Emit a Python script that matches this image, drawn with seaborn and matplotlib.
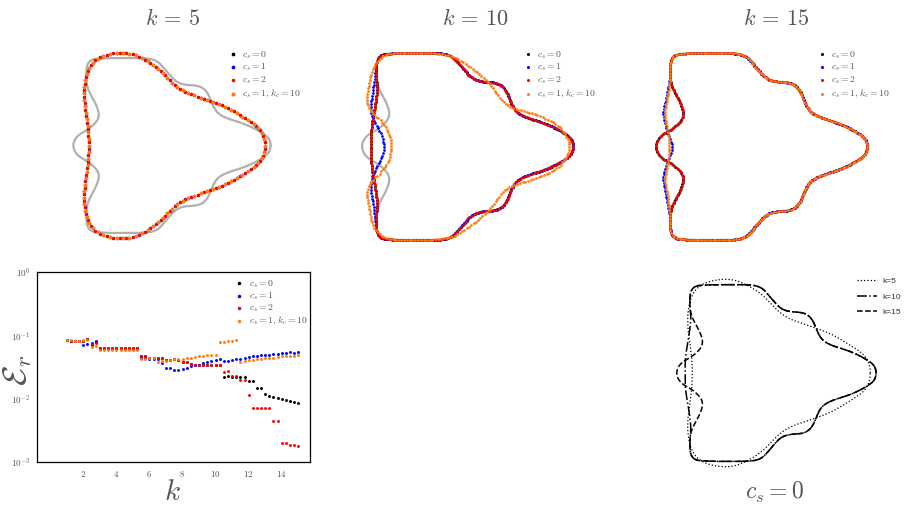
import numpy as np
import matplotlib
matplotlib.use("Agg")
import matplotlib.pyplot as plt
import seaborn as sns
from matplotlib.ticker import FuncFormatter, LogLocator, NullFormatter

# 輪郭の上半分（先端 -> 左のこぶ）、ピクセル単位で読み取り
shape_x = [867, 866, 861, 853, 845, 835, 825, 815, 809, 805, 802, 798, 791, 782, 773, 766, 760, 754, 748, 740,
           728, 712, 696, 684, 676, 672, 670, 670, 671, 675, 680, 683, 683, 675, 662, 657, 656]
shape_y = [146.5, 140, 135, 130, 126, 122, 119, 115, 110, 103, 95, 88, 83, 82, 81, 78, 72, 65, 58, 54,
           53, 53, 53, 53.5, 54.5, 58, 65, 76, 84, 93, 102, 110, 118, 127, 135, 141, 146.5]
n_right = 27  # 右側（共通部分）の点数

# k=5 の再構成
k5_x = [861, 859, 856, 845, 827, 808, 791, 778, 767, 757, 749, 738, 731, 720, 709, 697, 687, 678, 672, 669,
        667, 669, 671, 672, 673]
k5_y = [146.5, 136, 128, 121, 109, 100.5, 95, 90, 84.5, 74, 66, 58, 53.5, 49, 47, 48, 51.5, 55.5, 64, 77,
        91, 107, 123, 136, 146.5]

# k=10 左側の形
k10_flat_x = [670, 671, 670, 668, 666, 665, 665]
k10_flat_y = [76, 88, 100, 112, 124, 135, 146.5]
k10_cs1_x = [669, 667, 665, 665, 668, 673, 677, 678]
k10_cs1_y = [76, 90, 103, 112, 121, 130, 139, 146.5]
k10_kc_x = [864, 862, 855, 845, 831, 818, 807, 797, 787, 777, 764, 754, 745, 735, 720, 700, 686, 677, 671, 666,
            663, 661, 662, 667, 675, 682, 686]
k10_kc_y = [146.5, 140, 128, 121, 115, 111, 108, 102, 88, 77, 67, 60, 56, 54, 53, 53, 53.5, 56, 61, 70,
            84, 97, 107, 113, 121, 130, 146.5]

# k=15 左側の形
k15_cs1_x = [670, 668, 666, 664, 663, 665, 668, 671, 672]
k15_cs1_y = [76, 88, 98, 108, 114, 124, 133, 140, 146.5]
k15_kc_x = [670, 669, 667, 665, 666, 668, 669, 669]
k15_kc_y = [76, 88, 100, 112, 122, 132, 140, 146.5]

# 誤差データ
k_vals = [1.0, 1.25, 1.5, 1.75, 2.0, 2.25, 2.5, 2.75, 3.0, 3.25, 3.5, 3.75, 4.0, 4.25, 4.5, 4.75, 5.0, 5.25,
          5.5, 5.75, 6.0, 6.25, 6.5, 6.75, 7.0, 7.25, 7.5, 7.75, 8.0, 8.25, 8.5, 8.75, 9.0, 9.25, 9.5, 9.75,
          10.0, 10.25, 10.5, 10.75, 11.0, 11.25, 11.5, 11.75, 12.0, 12.25, 12.5, 12.75, 13.0, 13.25, 13.5,
          13.75, 14.0, 14.25, 14.5, 14.75, 15.0]
err_cs0 = [0.084, 0.083, 0.082, 0.082, 0.082, 0.088, 0.072, 0.078,
           0.063, 0.063, 0.063, 0.063, 0.063, 0.063, 0.063, 0.063, 0.063, 0.063,
           0.047, 0.047, 0.044, 0.044, 0.044, 0.045,
           0.041, 0.041, 0.042, 0.041, 0.039, 0.039, 0.036, 0.035, 0.035, 0.035, 0.035, 0.035, 0.035, 0.035,
           0.0225, 0.023, 0.0225, 0.022, 0.022, 0.022, 0.0192, 0.019, 0.015, 0.015, 0.0118, 0.0113, 0.0107,
           0.0104, 0.0100, 0.0097, 0.0093, 0.0091, 0.0086]
err_cs1 = [0.084, 0.083, 0.082, 0.082, 0.070, 0.074, 0.077, 0.083,
           0.062, 0.062, 0.062, 0.062, 0.062, 0.062, 0.062, 0.062, 0.062, 0.062,
           0.045, 0.044, 0.043, 0.043, 0.043, 0.037,
           0.031, 0.031, 0.0285, 0.029, 0.030, 0.031, 0.033, 0.034, 0.035, 0.037, 0.039, 0.040, 0.041, 0.042,
           0.040, 0.040, 0.041, 0.042, 0.043, 0.044, 0.046, 0.047, 0.048, 0.049, 0.050, 0.050, 0.051,
           0.052, 0.053, 0.054, 0.055, 0.054, 0.055]
err_cs2 = [0.084, 0.083, 0.082, 0.082, 0.082, 0.090, 0.074, 0.076,
           0.063, 0.063, 0.063, 0.063, 0.063, 0.063, 0.063, 0.063, 0.063, 0.063,
           0.047, 0.047, 0.044, 0.044, 0.044, 0.045,
           0.041, 0.041, 0.042, 0.041, 0.039, 0.039, 0.036, 0.035, 0.035, 0.035, 0.035, 0.035, 0.035, 0.035,
           0.027, 0.028, 0.023, 0.023, 0.020, 0.020, 0.0115, 0.0072, 0.0072, 0.0072, 0.0072, 0.0072, 0.0045,
           0.0045, 0.0020, 0.0020, 0.0019, 0.0019, 0.0018]
err_kc = [0.085, 0.085, 0.083, 0.083, 0.084, 0.086, 0.067, 0.069,
          0.060, 0.060, 0.060, 0.060, 0.060, 0.060, 0.060, 0.060, 0.060, 0.060,
          0.043, 0.043, 0.044, 0.044, 0.039, 0.040,
          0.040, 0.041, 0.042, 0.042, 0.043, 0.044, 0.045, 0.046, 0.047, 0.048, 0.049, 0.050, 0.049, 0.080,
          0.079, 0.081, 0.082, 0.085, 0.039, 0.040, 0.041, 0.041, 0.042, 0.043, 0.044, 0.045, 0.045,
          0.046, 0.047, 0.047, 0.048, 0.048, 0.049]

labels = ["$c_s = 0$", "$c_s = 1$", "$c_s = 2$", "$c_s = 1, k_c = 10$"]
colors = ["#000000", "#0000ff", "#ff0000", "#ff7f0e"]
TEXT = "#555555"
GRAY = "#b0b0b0"
W, H = 913, 509
MID = 146.5

sns.set_style("white")
plt.rcParams["mathtext.fontset"] = "cm"


def contour(xu, yu):
    xu = np.asarray(xu, float)
    yu = np.asarray(yu, float)
    x = np.concatenate([xu, xu[-2:0:-1]])
    y = np.concatenate([yu, 2 * MID - yu[-2:0:-1]])
    return x, -y


def smooth(xu, yu, n_pts=400, phase=0.0, n_harm=40):
    x, y = contour(xu, yu)
    z = np.append(x + 1j * y, x[0] + 1j * y[0])
    s = np.concatenate([[0], np.cumsum(np.abs(np.diff(z)))])
    m = 512
    u = np.arange(m) / m * s[-1]
    zr = np.interp(u, s, z.real) + 1j * np.interp(u, s, z.imag)
    c = np.fft.fft(zr) / m
    f = np.fft.fftfreq(m, 1 / m)
    keep = np.abs(f) <= n_harm
    t = (np.arange(n_pts) + phase) / n_pts
    zz = (c[keep][None, :] * np.exp(2j * np.pi * f[keep][None, :] * t[:, None])).sum(axis=1)
    return zz.real, zz.imag


def with_left(lx, ly):
    return shape_x[:n_right] + lx, shape_y[:n_right] + ly


def place(ax, left_px, top_px, scale, top_y, bottom_y):
    xlim = (min(shape_x), max(shape_x))
    w = (xlim[1] - xlim[0]) * scale
    h = (bottom_y - top_y) * scale
    ax.set_position([left_px / W, 1 - (top_px + h) / H, w / W, h / H])
    ax.set_xlim(xlim)
    ax.set_ylim(-bottom_y, -top_y)
    ax.axis("off")


def shape_panel(ax, curves, n_dots, sizes, phases):
    gx, gy = smooth(shape_x, shape_y)
    ax.plot(np.append(gx, gx[0]), np.append(gy, gy[0]), color=GRAY, lw=1.6, zorder=1, clip_on=False)
    for i, ((cx, cy, nh), lab, col) in enumerate(zip(curves, labels, colors)):
        px, py = smooth(cx, cy, n_dots, phase=phases[i], n_harm=nh)
        sns.scatterplot(x=px, y=py, color=col, s=sizes[i], linewidth=0, ax=ax, label=lab,
                        zorder=2 + i, clip_on=False)


def top_legend(ax, left_px, top_px):
    ax.legend(loc="upper left", bbox_to_anchor=(left_px / W, 1 - top_px / H), bbox_transform=fig.transFigure,
              frameon=False, fontsize=7, borderpad=0, borderaxespad=0, handlelength=0.8,
              handletextpad=0.5, labelspacing=0.12, labelcolor=TEXT, markerscale=1.1)


fig = plt.figure(figsize=(W / 100, H / 100), dpi=100)

# k=5
ax1 = fig.add_axes([0, 0, 1, 1])
k5c = (k5_x, k5_y, 15)
shape_panel(ax1, [k5c, k5c, k5c, k5c], 90, [6, 6, 5.5, 7.5], [0, 0.5, 0.5, 0])
place(ax1, 73.3, 52.5, 0.935, 47, 2 * MID - 47)
top_legend(ax1, 229, 49)

# k=10
ax2 = fig.add_axes([0, 0, 1, 1])
fx, fy = with_left(k10_flat_x, k10_flat_y)
bx, by = with_left(k10_cs1_x, k10_cs1_y)
shape_panel(ax2, [(fx, fy, 40), (bx, by, 40), (fx, fy, 40), (k10_kc_x, k10_kc_y, 25)], 230, [4, 4, 4, 4],
            [0, 0.25, 0.5, 0.75])
place(ax2, 362, 53, 1.0, 53, 2 * MID - 53)
top_legend(ax2, 524, 49)

# k=15
ax3 = fig.add_axes([0, 0, 1, 1])
b15x, b15y = with_left(k15_cs1_x, k15_cs1_y)
o15x, o15y = with_left(k15_kc_x, k15_kc_y)
shape_panel(ax3, [(shape_x, shape_y, 40), (b15x, b15y, 40), (shape_x, shape_y, 40), (o15x, o15y, 40)],
            230, [4, 4, 4, 4], [0, 0.25, 0.5, 0.75])
place(ax3, 656, 53, 1.0, 53, 2 * MID - 53)
top_legend(ax3, 818.5, 49)

for xc, txt in [(172.5, r"$k\,=\,5$"), (475, r"$k\,=\,10$"), (776, r"$k\,=\,15$")]:
    fig.text(xc / W, 1 - 18.5 / H, txt, ha="center", va="center", fontsize=16, color=TEXT)

# 誤差プロット
ax4 = fig.add_axes([36.7 / W, 1 - 462.3 / H, 273.3 / W, 190 / H])
for i, (vals, lab, col) in enumerate(zip([err_cs0, err_cs1, err_cs2, err_kc], labels, colors)):
    sns.scatterplot(x=k_vals, y=vals, color=col, s=4.5, linewidth=0, ax=ax4, label=lab, zorder=2 + i)
ax4.set_yscale("log")
ax4.set_ylim(1e-3, 1)
ax4.set_xlim(-0.82, 15.71)
ax4.set_xticks([2, 4, 6, 8, 10, 12, 14])
ax4.xaxis.set_major_formatter(FuncFormatter(lambda v, _: f"${v:g}$"))
ax4.yaxis.set_major_locator(LogLocator(base=10, numticks=10))
ax4.yaxis.set_major_formatter(FuncFormatter(lambda v, _: f"$10^{{{int(round(np.log10(v)))}}}$"))
ax4.yaxis.set_minor_locator(LogLocator(base=10, subs=np.arange(2, 10), numticks=10))
ax4.yaxis.set_minor_formatter(NullFormatter())
ax4.tick_params(axis="both", which="major", labelsize=6.5, labelcolor=TEXT, length=2.5, width=0.6, pad=2)
ax4.tick_params(axis="y", which="minor", length=1.5, width=0.5)
for sp in ax4.spines.values():
    sp.set_color("black")
    sp.set_linewidth(0.9)
ax4.set_xlabel("")
ax4.set_ylabel("")
ax4.legend(loc="upper left", bbox_to_anchor=(235.5 / W, 1 - 278 / H), bbox_transform=fig.transFigure,
           frameon=False, fontsize=7, borderpad=0, borderaxespad=0, handlelength=0.8, handletextpad=0.6,
           labelspacing=0.05, labelcolor=TEXT, markerscale=1.2)
fig.text(17 / W, 1 - 370 / H, r"$\mathcal{E}_r$", rotation=90, ha="center", va="center", fontsize=24,
         color=TEXT)
fig.text(172 / W, 1 - 492 / H, "$k$", ha="center", va="center", fontsize=21, color=TEXT)

# c_s = 0 の比較
ax5 = fig.add_axes([0, 0, 1, 1])
for (cx, cy, nh), ls, lw, lab in [((k5_x, k5_y, 15), ":", 0.9, "k=5"),
                                  ((fx, fy, 40), "-.", 1.1, "k=10"),
                                  ((shape_x, shape_y, 40), "--", 1.1, "k=15")]:
    px, py = smooth(cx, cy, 600, n_harm=nh)
    ax5.plot(np.append(px, px[0]), np.append(py, py[0]), color="black", ls=ls, lw=lw, label=lab,
             clip_on=False)
place(ax5, 676.7, 279, 0.945, 47, 2 * MID - 47)
ax5.legend(loc="upper left", bbox_to_anchor=(857 / W, 1 - 277 / H), bbox_transform=fig.transFigure,
           frameon=False, prop={"family": "Liberation Sans", "size": 6}, borderpad=0, borderaxespad=0,
           handlelength=2.4, handletextpad=0.7, labelspacing=0.95, labelcolor="#333333")
fig.text(774 / W, 1 - 492 / H, "$c_s = 0$", ha="center", va="center", fontsize=17, color=TEXT)

fig.savefig("out.png", dpi=100)
